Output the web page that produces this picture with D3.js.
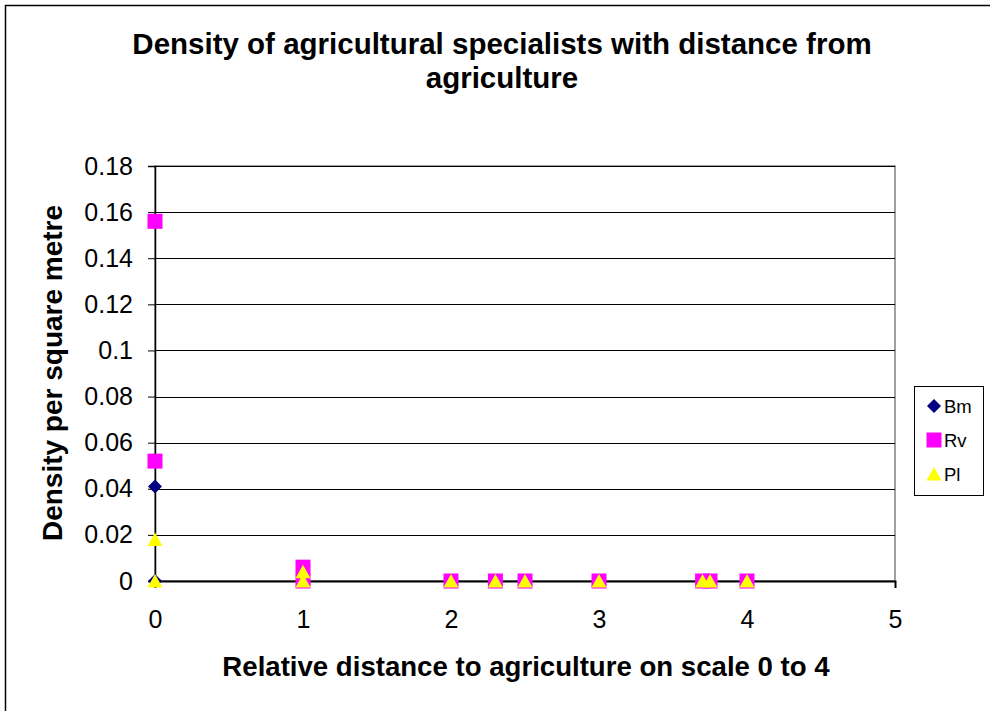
<!DOCTYPE html>
<html>
<head>
<meta charset="utf-8">
<script src="https://cdn.jsdelivr.net/npm/d3@7/dist/d3.min.js"></script>
<style>
  html, body { margin: 0; padding: 0; background: #fff; }
  svg { display: block; font-family: "Liberation Sans", Arial, sans-serif; }
</style>
</head>
<body>
<svg id="chart" width="990" height="711"></svg>
<script>
// Survey sites: relative distance to agriculture (0-4) and density per square metre
const bmX = [0, 0, 1, 2, 2.3, 2.5, 3, 3.7, 3.75, 4];
const bmY = [0.041, 0, 0, 0, 0, 0, 0, 0, 0, 0];
const rvX = [0, 0, 1, 1, 2, 2.3, 2.5, 3, 3.7, 3.75, 4];
const rvY = [0.156, 0.052, 0.006, 0, 0, 0, 0, 0, 0, 0, 0];
const plX = [0, 0, 1, 1, 2, 2.3, 2.5, 3, 3.7, 3.75, 4];
const plY = [0.018, 0, 0.004, 0, 0, 0, 0, 0, 0, 0, 0];

const xTicks = [0, 1, 2, 3, 4, 5];
const yTicks = [0, 0.02, 0.04, 0.06, 0.08, 0.1, 0.12, 0.14, 0.16, 0.18];
const seriesNames = ["Bm", "Rv", "Pl"];

const svg = d3.select("#chart");

// Outer chart frame
svg.append("rect")
  .attr("x", 5.5).attr("y", 5.5)
  .attr("width", 1000).attr("height", 720)
  .attr("fill", "#fff").attr("stroke", "#000").attr("stroke-width", 1.5);

const plot = { left: 155, right: 895, top: 166, bottom: 581 };

const x = d3.scaleLinear().domain([0, 5]).range([plot.left, plot.right]);
const y = d3.scaleLinear().domain([0, 0.18]).range([plot.bottom, plot.top]);

// Plot area border (grey, top and right)
svg.append("rect")
  .attr("x", plot.left).attr("y", plot.top)
  .attr("width", plot.right - plot.left).attr("height", plot.bottom - plot.top)
  .attr("fill", "none").attr("stroke", "#808080").attr("stroke-width", 1.5);

// Horizontal gridlines
svg.append("g")
  .selectAll("line")
  .data(yTicks.slice(1))
  .join("line")
  .attr("x1", plot.left).attr("x2", plot.right)
  .attr("y1", d => Math.round(y(d)) + 0.5).attr("y2", d => Math.round(y(d)) + 0.5)
  .attr("stroke", "#000").attr("stroke-width", 1);

// Y axis
const yAxis = svg.append("g")
  .attr("transform", `translate(${plot.left},0)`)
  .call(d3.axisLeft(y).tickValues(yTicks).tickFormat(d => String(+d.toFixed(2))).tickSize(7).tickPadding(15));
yAxis.select(".domain").attr("stroke", "#000").attr("stroke-width", 1.5);
yAxis.selectAll(".tick line").attr("stroke", "#000");
yAxis.selectAll(".tick text")
  .attr("font-size", 25).attr("fill", "#000")
  .attr("font-family", "Liberation Sans, Arial, sans-serif");

// X axis
const xAxis = svg.append("g")
  .attr("transform", `translate(0,${plot.bottom})`)
  .call(d3.axisBottom(x).tickValues(xTicks).tickFormat(d3.format("d")).tickSize(7).tickPadding(22));
xAxis.select(".domain").attr("stroke", "#000").attr("stroke-width", 2);
xAxis.selectAll(".tick line").attr("stroke", "#000");
xAxis.selectAll(".tick text")
  .attr("font-size", 25).attr("fill", "#000")
  .attr("font-family", "Liberation Sans, Arial, sans-serif");

// Marker shapes: diamond, square, triangle
const diamondType = { draw(ctx) { const r = 7; ctx.moveTo(0, -r); ctx.lineTo(r, 0); ctx.lineTo(0, r); ctx.lineTo(-r, 0); ctx.closePath(); } };
const squareType = { draw(ctx) { const h = 7.5; ctx.moveTo(-h, -h); ctx.lineTo(h, -h); ctx.lineTo(h, h); ctx.lineTo(-h, h); ctx.closePath(); } };
const triangleType = { draw(ctx) { ctx.moveTo(0, -7); ctx.lineTo(7.5, 6.5); ctx.lineTo(-7.5, 6.5); ctx.closePath(); } };
const diamond = d3.symbol().type(diamondType);
const square = d3.symbol().type(squareType);
const triangle = d3.symbol().type(triangleType);

function drawSeries(xs, ys, gen, color) {
  svg.append("g")
    .selectAll("path")
    .data(xs.map((v, i) => [v, ys[i]]))
    .join("path")
    .attr("d", gen)
    .attr("transform", d => `translate(${x(d[0])},${y(d[1])})`)
    .attr("fill", color);
}
drawSeries(bmX, bmY, diamond, "#000080");
drawSeries(rvX, rvY, square, "#FF00FF");
drawSeries(plX, plY, triangle, "#FFFF00");

// Title
const title = svg.append("text")
  .attr("text-anchor", "middle")
  .attr("font-size", 29.5).attr("font-weight", "bold").attr("fill", "#000");
title.append("tspan").attr("x", 502).attr("y", 54).text("Density of agricultural specialists with distance from");
title.append("tspan").attr("x", 502).attr("y", 88).text("agriculture");

// Axis titles
svg.append("text")
  .attr("x", 526).attr("y", 676)
  .attr("text-anchor", "middle")
  .attr("font-size", 27.6).attr("font-weight", "bold").attr("fill", "#000")
  .text("Relative distance to agriculture on scale 0 to 4");

svg.append("text")
  .attr("transform", "translate(62,373) rotate(-90)")
  .attr("text-anchor", "middle")
  .attr("font-size", 28).attr("font-weight", "bold").attr("fill", "#000")
  .text("Density per square metre");

// Legend
const legend = svg.append("g");
legend.append("rect")
  .attr("x", 914.5).attr("y", 386.5).attr("width", 69).attr("height", 109)
  .attr("fill", "#fff").attr("stroke", "#000").attr("stroke-width", 1);
const legendGens = [diamond, square, triangle];
const legendColors = ["#000080", "#FF00FF", "#FFFF00"];
const legendY = d3.scalePoint().domain(seriesNames).range([406, 474]);
seriesNames.forEach((name, i) => {
  const cy = legendY(name);
  legend.append("path")
    .attr("d", legendGens[i])
    .attr("transform", `translate(934,${cy})`)
    .attr("fill", legendColors[i]);
  legend.append("text")
    .attr("x", 944).attr("y", cy + 7)
    .attr("font-size", 18.5).attr("fill", "#000")
    .text(name);
});
</script>
</body>
</html>
